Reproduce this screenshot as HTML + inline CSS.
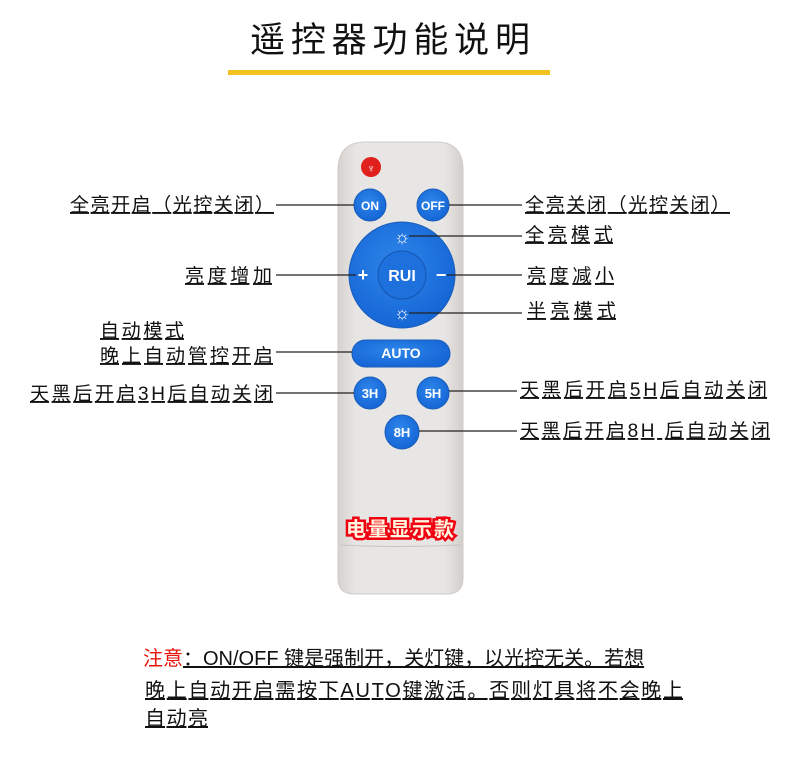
<!DOCTYPE html>
<html><head><meta charset="utf-8"><style>
html,body{margin:0;padding:0;background:#fff;width:800px;height:770px;overflow:hidden}
text{font-family:"Liberation Sans","Noto Sans CJK SC",sans-serif}
</style></head><body>
<svg width="800" height="770" viewBox="0 0 800 770" xmlns="http://www.w3.org/2000/svg">
<defs>
<linearGradient id="rg" x1="0" x2="1"><stop offset="0" stop-color="#d6d2d0"/><stop offset="0.15" stop-color="#e8e6e4"/><stop offset="0.85" stop-color="#e8e6e4"/><stop offset="1" stop-color="#d2cecc"/></linearGradient>
<radialGradient id="bg" cx="0.45" cy="0.4" r="0.6"><stop offset="0" stop-color="#2f86ea"/><stop offset="1" stop-color="#1566d6"/></radialGradient>
</defs>
<text x="390" y="52" font-size="35" text-anchor="middle" fill="#111" textLength="280">遥控器功能说明</text>
<rect x="228" y="70" width="322" height="5" fill="#f2c320"/>

<!-- remote -->
<path d="M338 170 Q338 142 366 142 L436 142 Q463 142 463 170 L463 578 Q463 594 447 594 L354 594 Q338 594 338 578 Z" fill="url(#rg)" stroke="#cfcbc9"/>
<path d="M340 545 Q400 548 461 545" stroke="#c8c4c2" fill="none"/>
<circle cx="371" cy="167" r="10" fill="#e0201c"/>
<text x="371" y="172" font-size="11" fill="#fff" text-anchor="middle">♆</text>
<g fill="url(#bg)" stroke="#1a5cb8" stroke-width="1">
<circle cx="370" cy="205" r="16"/><circle cx="433" cy="205" r="16"/>
<circle cx="402" cy="275" r="53"/>
<rect x="352" y="340" width="98" height="27" rx="13.5"/>
<circle cx="370" cy="393" r="16"/><circle cx="433" cy="393" r="16"/><circle cx="402" cy="432" r="17"/>
</g>
<circle cx="402" cy="275" r="24" fill="#1e70dc" stroke="#1555b0"/>
<g fill="#fff" font-weight="bold" text-anchor="middle">
<text x="370" y="210" font-size="12">ON</text>
<text x="433" y="210" font-size="12">OFF</text>
<text x="402" y="281" font-size="16">RUI</text>
<text x="401" y="358" font-size="14">AUTO</text>
<text x="370" y="398" font-size="13">3H</text>
<text x="433" y="398" font-size="13">5H</text>
<text x="402" y="437" font-size="13">8H</text>
<text x="363" y="281" font-size="18">+</text>
<text x="441" y="281" font-size="18">−</text>
<text x="402" y="243" font-size="18">☼</text>
<text x="402" y="319" font-size="18">☼</text>
</g>
<text x="400" y="536" font-size="20" font-weight="bold" text-anchor="middle" fill="#fff6e0" stroke="#f00010" stroke-width="5" paint-order="stroke" textLength="108">电量显示款</text>

<!-- connectors -->
<g stroke="#222" stroke-width="1.3">
<line x1="276" y1="205" x2="354" y2="205"/>
<line x1="449" y1="205" x2="522" y2="205"/>
<line x1="409" y1="236" x2="522" y2="236"/>
<line x1="276" y1="275" x2="356" y2="275"/>
<line x1="447" y1="275" x2="522" y2="275"/>
<line x1="409" y1="313" x2="522" y2="313"/>
<line x1="276" y1="352" x2="352" y2="352"/>
<line x1="276" y1="393" x2="354" y2="393"/>
<line x1="449" y1="391" x2="517" y2="391"/>
<line x1="419" y1="431" x2="517" y2="431"/>
</g>
<g font-size="19" fill="#111" text-decoration="underline">
<text x="70" y="211" textLength="204">全亮开启（光控关闭）</text>
<text x="525" y="211" textLength="205">全亮关闭（光控关闭）</text>
<text x="525" y="241" textLength="88">全亮模式</text>
<text x="185" y="282" textLength="87">亮度增加</text>
<text x="527" y="282" textLength="87">亮度减小</text>
<text x="527" y="317" textLength="89">半亮模式</text>
<text x="100" y="337" textLength="84" text-decoration="none">自动模式</text>
<text x="100" y="362" textLength="173">晚上自动管控开启</text>
<text x="30" y="400" textLength="243">天黑后开启3H后自动关闭</text>
<text x="520" y="396" textLength="247">天黑后开启5H后自动关闭</text>
<text x="520" y="437" textLength="250">天黑后开启8H 后自动关闭</text>
</g>
<g font-size="20" fill="#111">
<text x="143" y="665"><tspan fill="#e8140c">注意</tspan><tspan text-decoration="underline">：ON/OFF 键是强制开，关灯键，以光控无关。若想</tspan></text>
<text x="145" y="697" text-decoration="underline" textLength="538">晚上自动开启需按下AUTO键激活。否则灯具将不会晚上</text>
<text x="145" y="725" text-decoration="underline" textLength="63">自动亮</text>
</g>
</svg>
</body></html>
